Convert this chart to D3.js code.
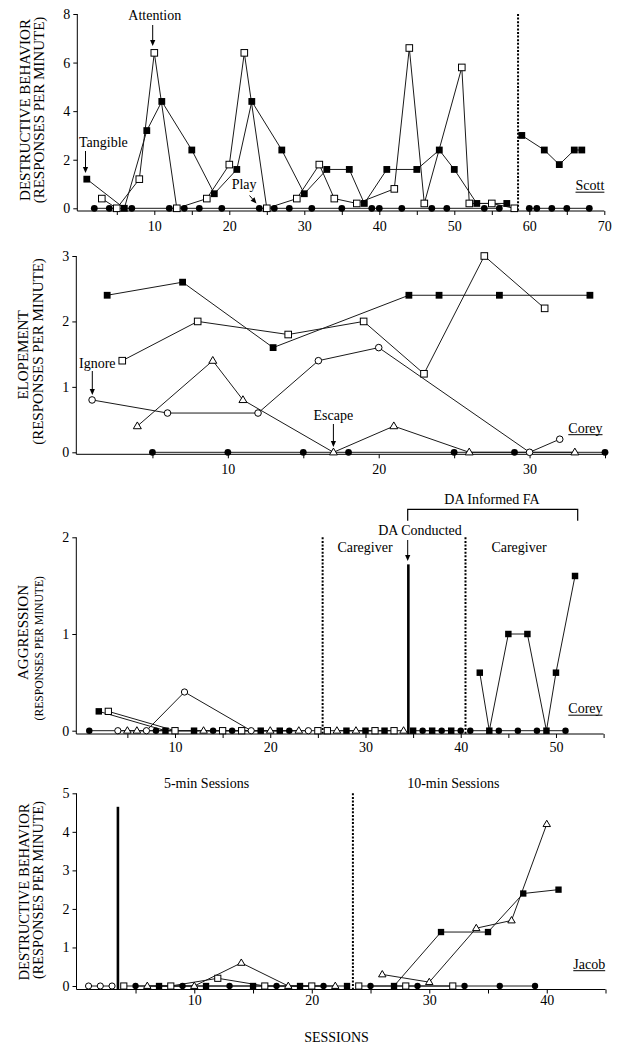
<!DOCTYPE html>
<html><head><meta charset="utf-8">
<script src="https://cdn.jsdelivr.net/npm/d3@7"></script>
<style>body{margin:0;background:#fff}svg{display:block}</style>
</head><body><svg id="c" width="622" height="1050"></svg>
<script>
// ---------------- DATA ----------------
// Panel 1 : Scott, destructive behavior
const scottTangibleA = [[1,1.2],[6,0],[9,3.2],[11,4.4],[15,2.4],[18,0.6],[21,1.6],[23,4.4],[27,2.4],[30,0.6],[33,1.6],[36,1.6],[38,0.2],[41,1.6],[45,1.6],[48,2.4],[50,1.6],[53,0.2],[57,0.2]];
const scottTangibleB = [[59,3.0],[62,2.4],[64,1.8],[66,2.4],[67,2.4]];
const scottAttention = [[3,0.4],[5,0],[8,1.2],[10,6.4],[13,0],[17,0.4],[20,1.8],[22,6.4],[25,0],[29,0.4],[32,1.8],[34,0.4],[37,0.2],[42,0.8],[44,6.6],[46,0.2],[51,5.8],[52,0.2],[55,0.2],[58,0]];
const scottPlayA = [[2,0],[4,0],[7,0],[12,0],[14,0],[16,0],[19,0],[24,0],[26,0],[28,0],[31,0],[35,0],[39,0],[40,0],[43,0],[47,0],[49,0],[54,0],[56,0]];
const scottPlayB = [[60,0],[61,0],[63,0],[65,0],[68,0]];
const scottPhaseLines = [58.5];
const p1XTicks = [10,20,30,40,50,60,70];
const p1YTicks = [0,2,4,6,8];

// Panel 2 : Corey, elopement
const eloTangible = [[2,2.4],[7,2.6],[13,1.6],[22,2.4],[24,2.4],[28,2.4],[34,2.4]];
const eloAttention = [[3,1.4],[8,2.0],[14,1.8],[19,2.0],[23,1.2],[27,3.0],[31,2.2]];
const eloIgnore = [[1,0.8],[6,0.6],[12,0.6],[16,1.4],[20,1.6],[30,0],[32,0.2]];
const eloEscape = [[4,0.4],[9,1.4],[11,0.8],[17,0],[21,0.4],[26,0],[33,0]];
const eloPlay = [[5,0],[10,0],[15,0],[18,0],[25,0],[29,0],[35,0]];
const p2XTicks = [10,20,30];
const p2YTicks = [0,1,2,3];

// Panel 3 : Corey, aggression
const aggPlayA = [[1,0],[8,0],[14,0],[16,0],[22,0]];
const aggTangibleA = [[2,0.2],[9,0],[12,0],[19,0],[21,0]];
const aggAttentionA = [[3,0.2],[10,0],[15,0],[17,0],[25,0]];
const aggIgnoreA = [[4,0],[7,0],[11,0.4],[18,0],[24,0]];
const aggEscapeA = [[5,0],[6,0],[13,0],[20,0],[23,0]];
const aggAttentionB = [[26,0],[31,0],[33,0]];
const aggEscapeB = [[27,0],[29,0],[34,0]];
const aggTangibleB = [[28,0],[30,0],[32,0]];
const aggTangibleC = [[35,0],[37,0],[39,0]];
const aggPlayC = [[36,0],[38,0],[40,0]];
const aggPlayD = [[41,0],[44,0],[46,0],[48,0],[51,0]];
const aggTangibleD = [[42,0.6],[43,0],[45,1.0],[47,1.0],[49,0],[50,0.6],[52,1.6]];
const aggPhaseLines = [25.5, 40.5];
const aggDALine = [34.5, 1.72];
const p3XTicks = [10,20,30,40,50];
const p3YTicks = [0,1,2];

// Panel 4 : Jacob, destructive behavior
const jacIgnoreA = [[1,0],[2,0],[3,0]];
const jacAttentionB = [[4,0],[8,0],[12,0.2],[16,0],[20,0]];
const jacPlayB = [[5,0],[9,0],[13,0],[17,0],[21,0]];
const jacEscapeB = [[6,0],[10,0],[14,0.6],[18,0],[22,0]];
const jacTangibleB = [[7,0],[11,0],[15,0],[19,0],[23,0]];
const jacAttentionC = [[24,0],[28,0],[32,0]];
const jacPlayC = [[25,0],[29,0],[33,0],[36,0],[39,0]];
const jacEscapeC = [[26,0.3],[30,0.1],[34,1.5],[37,1.7],[40,4.2]];
const jacTangibleC = [[27,0],[31,1.4],[35,1.4],[38,2.4],[41,2.5]];
const jacPhaseLines = [23.5];
const jacSolidLine = [3.5, 4.65];
const p4XTicks = [10,20,30,40];
const p4YTicks = [0,1,2,3,4,5];

// ---------------- DRAWING ----------------
const FONT = "'Liberation Serif','Times New Roman',Times,serif";
const svg = d3.select('#c');
const INK = '#000';

function marker(g, type, cx, cy, k) {
  if (type === 'tangible') {
    const s = 6.8 * k;
    g.append('rect').attr('x', cx - s/2).attr('y', cy - s/2).attr('width', s).attr('height', s).attr('fill', INK);
  } else if (type === 'attention') {
    const s = 6.6 * k;
    g.append('rect').attr('x', cx - s/2).attr('y', cy - s/2).attr('width', s).attr('height', s)
      .attr('fill', '#fff').attr('stroke', INK).attr('stroke-width', 1);
  } else if (type === 'play') {
    g.append('circle').attr('cx', cx).attr('cy', cy).attr('r', 3.4 * k).attr('fill', INK);
  } else if (type === 'ignore') {
    g.append('circle').attr('cx', cx).attr('cy', cy).attr('r', 3.3 * k)
      .attr('fill', '#fff').attr('stroke', INK).attr('stroke-width', 1);
  } else if (type === 'escape') {
    const w = 4.0 * k, h1 = 4.2 * k, h2 = 2.6 * k;
    g.append('path').attr('d', `M${cx},${cy - h1}L${cx + w},${cy + h2}L${cx - w},${cy + h2}Z`)
      .attr('fill', '#fff').attr('stroke', INK).attr('stroke-width', 1);
  }
}

function arrow(x1, y1, x2, y2) {
  const L = 6, W = 2.6;
  const dx = x2 - x1, dy = y2 - y1, d = Math.hypot(dx, dy);
  const ux = dx / d, uy = dy / d;
  const bx = x2 - ux * L, by = y2 - uy * L;
  svg.append('line').attr('x1', x1).attr('y1', y1).attr('x2', bx).attr('y2', by).attr('stroke', INK).attr('stroke-width', 1);
  svg.append('path').attr('d', `M${x2},${y2}L${bx - uy * W},${by + ux * W}L${bx + uy * W},${by - ux * W}Z`).attr('fill', INK);
}

function label(txt, x, y, opts = {}) {
  const t = svg.append('text').attr('x', x).attr('y', y).text(txt)
    .attr('font-family', FONT).attr('font-size', opts.size || 14).attr('fill', INK)
    .attr('text-anchor', opts.anchor || 'start');
  if (opts.underline) {
    const bb = t.node().getBBox();
    svg.append('line').attr('x1', bb.x).attr('x2', bb.x + bb.width).attr('y1', y + 2.2).attr('y2', y + 2.2)
      .attr('stroke', INK).attr('stroke-width', 1);
  }
  return t;
}

function yLabel(lines, cfg) {
  lines.forEach((txt, i) => {
    const c = cfg[i];
    const t = svg.append('text').attr('transform', `translate(${c.bx},${c.cy}) rotate(-90)`)
      .attr('text-anchor', 'middle').attr('font-family', FONT).attr('font-size', c.size || 15).attr('fill', INK)
      .text(txt);
  });
}

function drawPanel(p) {
  const g = svg.append('g');
  const x = d3.scaleLinear().domain([0, p.xMax]).range(p.xRange);
  const y = d3.scaleLinear().domain([0, p.yMax]).range(p.yRange);

  // x axis
  const xa = d3.axisBottom(x).tickValues(d3.range(5, p.xMax + 0.1, 5))
    .tickFormat(d => p.xTicks.includes(d) ? String(d) : '').tickSize(4).tickSizeOuter(0).tickPadding(p.xPad);
  const gx = g.append('g').attr('transform', `translate(0,${p.axisY})`).call(xa);
  gx.select('.domain').remove();
  gx.attr('font-family', FONT).attr('font-size', 14);
  gx.selectAll('line').attr('stroke', INK);
  gx.selectAll('text').attr('fill', INK);
  g.append('line').attr('x1', p.yAxisX).attr('x2', x(p.xMax)).attr('y1', p.axisY).attr('y2', p.axisY).attr('stroke', INK);

  // y axis
  const ya = d3.axisLeft(y).tickValues(p.yTicks).tickFormat(d3.format('d')).tickSize(4).tickSizeOuter(0).tickPadding(3);
  const gy = g.append('g').attr('transform', `translate(${p.yAxisX},0)`).call(ya);
  gy.select('.domain').remove();
  gy.attr('font-family', FONT).attr('font-size', 14);
  gy.selectAll('line').attr('stroke', INK);
  gy.selectAll('text').attr('fill', INK);
  g.append('line').attr('x1', p.yAxisX).attr('x2', p.yAxisX).attr('y1', y(p.yMax)).attr('y2', p.axisY).attr('stroke', INK);

  // phase lines
  (p.dotted || []).forEach(s => {
    g.append('line').attr('x1', x(s)).attr('x2', x(s)).attr('y1', y(p.yMax)).attr('y2', p.axisY)
      .attr('stroke', INK).attr('stroke-width', 2).attr('stroke-dasharray', '2,1.6');
  });
  (p.solid || []).forEach(([s, v]) => {
    g.append('line').attr('x1', x(s)).attr('x2', x(s)).attr('y1', y(v)).attr('y2', p.axisY)
      .attr('stroke', INK).attr('stroke-width', 2.6);
  });

  // series lines
  const line = d3.line().x(d => x(d[0])).y(d => y(d[1]));
  p.series.forEach(s => {
    g.append('path').datum(s.data).attr('d', line).attr('fill', 'none').attr('stroke', '#1a1a1a').attr('stroke-width', 1);
  });
  // markers
  p.series.forEach(s => {
    s.data.forEach(d => marker(g, s.type, x(d[0]), y(d[1]), p.k));
  });
  return {x, y};
}

// Panel 1
drawPanel({
  xMax: 70, xRange: [79.3, 604.3], yMax: 8, yRange: [208.3, 14], axisY: 211, yAxisX: 77.3,
  xTicks: p1XTicks, yTicks: p1YTicks, xPad: 6, k: 1, dotted: scottPhaseLines,
  series: [
    {data: scottPlayA, type: 'play'}, {data: scottPlayB, type: 'play'},
    {data: scottAttention, type: 'attention'},
    {data: scottTangibleA, type: 'tangible'}, {data: scottTangibleB, type: 'tangible'}
  ]
});
// Panel 2
drawPanel({
  xMax: 35, xRange: [77, 605], yMax: 3, yRange: [452.3, 256], axisY: 454.3, yAxisX: 76.3,
  xTicks: p2XTicks, yTicks: p2YTicks, xPad: 6, k: 1,
  series: [
    {data: eloPlay, type: 'play'}, {data: eloEscape, type: 'escape'},
    {data: eloIgnore, type: 'ignore'}, {data: eloAttention, type: 'attention'},
    {data: eloTangible, type: 'tangible'}
  ]
});
// Panel 3
drawPanel({
  xMax: 55, xRange: [79.75, 603.6], yMax: 2, yRange: [730.7, 537.3], axisY: 734, yAxisX: 76.3,
  xTicks: p3XTicks, yTicks: p3YTicks, xPad: 4.5, k: 0.95, dotted: aggPhaseLines, solid: [aggDALine],
  series: [
    {data: aggPlayA, type: 'play'}, {data: aggEscapeA, type: 'escape'}, {data: aggIgnoreA, type: 'ignore'},
    {data: aggAttentionA, type: 'attention'}, {data: aggTangibleA, type: 'tangible'},
    {data: aggAttentionB, type: 'attention'}, {data: aggEscapeB, type: 'escape'}, {data: aggTangibleB, type: 'tangible'},
    {data: aggTangibleC, type: 'tangible'}, {data: aggPlayC, type: 'play'},
    {data: aggPlayD, type: 'play'}, {data: aggTangibleD, type: 'tangible'}
  ]
});
// Panel 4
drawPanel({
  xMax: 45, xRange: [76.8, 605.5], yMax: 5, yRange: [986, 793.3], axisY: 989.5, yAxisX: 76.5,
  xTicks: p4XTicks, yTicks: p4YTicks, xPad: 2, k: 0.93, dotted: jacPhaseLines, solid: [jacSolidLine],
  series: [
    {data: jacIgnoreA, type: 'ignore'},
    {data: jacPlayB, type: 'play'}, {data: jacEscapeB, type: 'escape'}, {data: jacAttentionB, type: 'attention'}, {data: jacTangibleB, type: 'tangible'},
    {data: jacPlayC, type: 'play'}, {data: jacAttentionC, type: 'attention'}, {data: jacEscapeC, type: 'escape'}, {data: jacTangibleC, type: 'tangible'}
  ]
});

// y-axis titles
yLabel(['DESTRUCTIVE BEHAVIOR', '(RESPONSES PER MINUTE)'], [{bx: 30, cy: 110}, {bx: 44, cy: 110}]);
yLabel(['ELOPEMENT', '(RESPONSES PER MINUTE)'], [{bx: 28, cy: 355}, {bx: 43, cy: 351.5}]);
yLabel(['AGGRESSION', '(RESPONSES PER MINUTE)'], [{bx: 28, cy: 632.5}, {bx: 43, cy: 648.3, size: 11.6}]);
yLabel(['DESTRUCTIVE BEHAVIOR', '(RESPONSES PER MINUTE)'], [{bx: 29, cy: 892, size: 14.6}, {bx: 43, cy: 890, size: 14.3}]);

// annotations panel 1
label('Tangible', 79, 146.5);
arrow(85.5, 151, 85.5, 173);
label('Attention', 128.3, 19.5);
arrow(152.7, 25, 152.7, 46);
label('Play', 231.7, 189);
arrow(249.5, 195.5, 256.5, 203.5);
label('Scott', 575.5, 190, {underline: true});

// panel 2
label('Ignore', 79, 367.5);
arrow(92.3, 371, 92.3, 395);
label('Escape', 313.5, 419.5);
arrow(333.4, 424, 333.4, 447);
label('Corey', 568.3, 432.5, {underline: true});

// panel 3
label('DA Informed FA', 492, 504, {anchor: 'middle'});
svg.append('path').attr('d', 'M407.7,520.7V509.3H577.7V520.7').attr('fill', 'none').attr('stroke', INK).attr('stroke-width', 1.2);
label('DA Conducted', 420, 535, {anchor: 'middle'});
arrow(407.7, 540, 407.7, 561);
label('Caregiver', 365, 552, {anchor: 'middle'});
label('Caregiver', 519, 552, {anchor: 'middle'});
label('Corey', 568.3, 713, {underline: true});

// panel 4
label('5-min Sessions', 206.5, 787.5, {anchor: 'middle'});
label('10-min Sessions', 453.3, 787.5, {anchor: 'middle'});
label('Jacob', 573.3, 968.5, {underline: true});
label('SESSIONS', 336.5, 1041.5, {anchor: 'middle'});
</script></body></html>
